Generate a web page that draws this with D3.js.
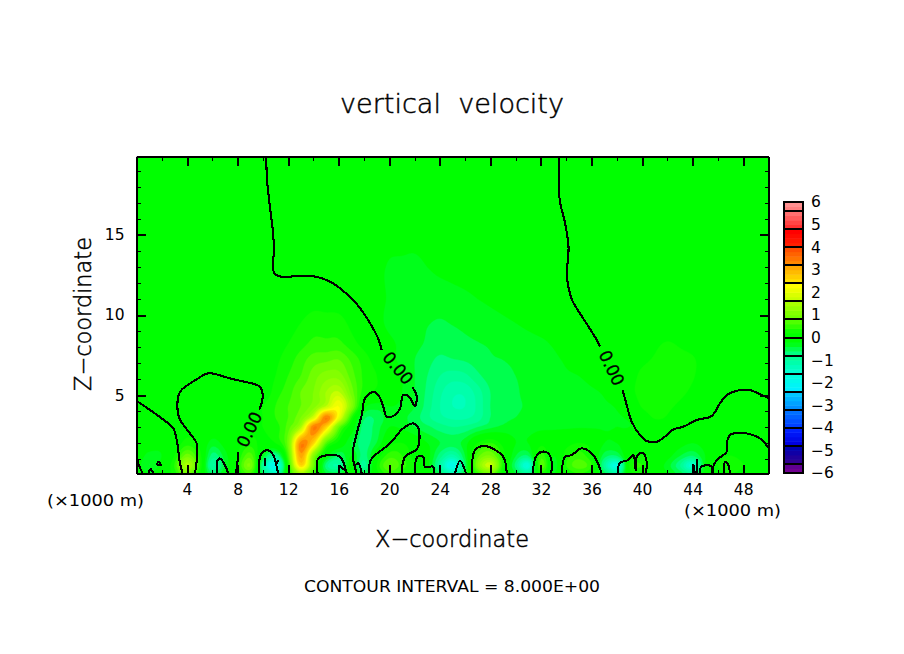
<!DOCTYPE html>
<html>
<head>
<meta charset="utf-8">
<title>vertical velocity</title>
<script src="https://cdn.jsdelivr.net/npm/d3@7"></script>
<style>
  html, body { margin: 0; background: #fff; }
  svg { display: block; }
  text { font-family: "DejaVu Sans", sans-serif; fill: #000; }
</style>
</head>
<body>
<svg id="chart" width="904" height="654"></svg>
<script>
// field, one row per height (x in 1000 m, z in 1000 m)
const xFine = d3.range(0, 51, 1);
const xCoarse = d3.range(0, 51, 2);

const w_z01 = [0,-.2,0,.3,.9,.2,-.6,-.2,.2,.6,-.6,-1.3,.2,1.4,.5,-.4,-.5,.1,-.5,.1,.5,.3,.1,0,-.6,-1.2,-.4,.5,.9,.1,-.4,-.9,.3,-.2,.2,.4,.2,-.5,-1,.1,.2,0,-.2,-.5,-.8,-.1,.1,.2,.1,0,0];
const w_z06 = [-.1,-.4,-.1,.4,1.5,.4,-1,-.4,.3,1,-.9,-2,.3,2.6,.9,-.7,-1,-.1,-.9,.2,.8,.5,.2,-.1,-1,-1.9,-.6,1,1.7,.3,-.7,-1.6,.7,-.3,.4,.7,.4,-.9,-1.7,.2,.4,0,-.3,-.8,-1.5,-.2,.2,.4,.2,0,0];
const w_z12 = [0,-.3,-.2,.2,.9,.3,-.7,-.3,.2,.7,-.3,-.9,.6,3.1,1.1,-.1,-.6,-.2,-.7,0,.5,.4,.1,-.1,-.7,-1.1,-.4,.7,1,.3,-.4,-.6,.5,-.2,.3,.5,.2,-.5,-.6,.1,.2,.1,-.1,-.4,-.6,-.2,.1,.2,.1,0,0];
const w_z20 = [0,0,-.1,0,.3,.1,-.3,-.1,.1,.3,.1,.2,.9,3.3,2.6,.7,.1,-.4,-.7,-.4,.1,.2,0,-.2,-.4,-.5,-.3,.2,.4,.1,-.2,-.2,.1,0,.1,.2,.1,-.2,-.2,0,.1,.1,.1,-.1,-.2,-.1,0,.1,.1,0,0];
const w_z30 = [0,0,0,0,.1,.1,0,0,0,.1,.2,.3,.7,1.5,3.4,2.6,.8,0,-.7,-.5,-.2,-.25,-.4,-.55,-.7,-.8,-.75,-.6,-.45,-.35,-.32,-.3,-.26,-.24,-.23,-.22,-.22,-.21,-.2,-.2,-.1,.05,.1,.05,0,0,0,0,0,0,0];
const w_z36 = [0,0,0,0,0,0,0,0,0,.1,.2,.4,.6,1,1.8,3.4,2.1,.4,-.55,-.55,-.3,-.35,-.5,-.75,-.95,-1.05,-1.05,-.9,-.6,-.45,-.4,-.35,-.3,-.28,-.26,-.25,-.24,-.23,-.22,-.16,.05,.22,.18,.05,0,0,0,0,0,0,0];
const w_z43 = [0,0,0,0,0,0,0,0,0,0,.2,.4,.6,.8,1.1,1.6,2.2,1.1,-.1,-.3,-.2,-.25,-.4,-.7,-1,-1.2,-1.2,-.95,-.6,-.45,-.42,-.38,-.32,-.3,-.28,-.25,-.24,-.22,-.18,-.02,.22,.3,.25,.15,.05,0,0,0,0,0,0];
const w_z52 = [0,0,0,0,0,0,0,0,0,0,0,.3,.5,.8,1,1.4,1.6,.9,.3,.15,0,-.2,-.4,-.65,-.95,-1.15,-1.15,-.9,-.6,-.45,-.42,-.35,-.3,-.3,-.28,-.25,-.22,-.18,-.08,.12,.28,.33,.33,.26,.15,.05,0,0,0,0,0];
const w_z62 = [0,0,0,0,0,0,0,0,0,0,0,.2,.4,.6,.9,1.1,1.1,.7,.35,.2,.02,-.2,-.4,-.6,-.8,-.9,-.85,-.65,-.5,-.42,-.4,-.35,-.3,-.25,-.22,-.2,-.15,-.1,-.02,.1,.25,.32,.35,.33,.22,.1,0,0,0,0,0];
const w_z72 = [0,0,0,0,0,0,.3,.7,.8,.3,-.12,-.4,-.65,-.58,-.42,-.38,-.28,-.18,-.08,0,.15,.3,.22,0,0,0];
const w_z82 = [0,0,0,0,0,0,.2,.45,.45,.12,-.15,-.35,-.5,-.44,-.38,-.32,-.24,-.12,-.05,0,.08,.22,.12,0,0,0];
const w_z95 = [0,0,0,0,0,0,.1,.3,.28,0,-.25,-.36,-.42,-.36,-.28,-.2,-.1,-.05,0,0,0,0,0,0,0,0];
const w_z110 = [0,0,0,0,0,0,0,.1,.08,-.05,-.22,-.3,-.3,-.24,-.16,-.08,-.03,0,0,0,0,0,0,0,0,0];
const w_z130 = [0,0,0,0,0,0,0,0,0,-.05,-.22,-.25,-.15,-.1,-.05,0,0,0,0,0,0,0,0,0,0,0];
const w_z160 = [0,0,0,0,0,0,0,0,0,0,-.05,-.05,0,0,0,0,0,0,0,0,0,0,0,0,0,0];
const w_z200 = [0,0,0,0,0,0,0,0,0,0,0,0,0,0,0,0,0,0,0,0,0,0,0,0,0,0];

const zRows = [0.1, 0.6, 1.2, 2, 3, 3.6, 4.3, 5.2, 6.2, 7.2, 8.2, 9.5, 11, 13, 16, 19.9];

const contourA = [[10.25,19.9],[10.35,18.25],[10.56,16.75],[10.78,15.31],[10.88,14.06],[10.78,13],[10.96,12.56],[11.49,12.39],[12.94,12.44],[14.26,12.38],[15.15,12.14],[15.94,11.77],[17.42,10.69],[18.47,9.5],[19.1,8.56],[19.4,7.81]];
const contourB = [[21.85,5.48],[22.17,4.89],[22.03,4.31],[21.58,4.89],[21.1,5],[20.85,4.17],[20.32,3.69],[19.79,3.64],[19.53,4.27],[19.13,5],[18.73,5.2],[18.08,4.79],[17.82,3.75],[17.42,2.6],[17.1,1.36],[17.2,.73],[17.42,.1]];
const contourC = [[0,4.64],[2,3.54],[2.91,2.92],[3.18,2.19],[3.44,.73],[3.65,.1]];
const contourD = [[4.63,.1],[4.76,1.98],[4.23,2.6],[3.39,3.54],[3.23,4.27],[3.44,5.2],[4.76,5.98],[5.68,6.36],[7.4,6.04],[8.19,5.89],[9.77,5.52],[9.98,5],[9.9,4.48],[9.72,4.1]];
const contourE = [[8.05,1.46],[7.98,.73],[7.87,.1]];
const contourF = [[33.4,19.9],[33.43,17.81],[33.5,17.08],[33.9,15.75],[34.18,14.27],[34.06,12.39],[34.46,10.94],[35,10.2],[35.88,9.13],[36.41,8.44],[36.67,8.02]];
const contourG = [[38.46,5.31],[38.78,4.38],[39.18,3.33],[39.83,2.5],[40.36,2.13],[41.15,2.08],[41.95,2.5],[42.47,2.85],[43.26,3.02],[44.32,3.44],[45.5,3.69],[46.16,4.48],[46.69,5],[47.75,5.31],[48.53,5.31],[49.19,5.1],[50,4.82]];
const contourH = [[50,1.7],[49.33,2.29],[48.53,2.56],[47.48,2.64],[46.95,2.5],[46.69,1.98],[46.69,1.46],[45.9,.94],[45.63,.52],[45.5,.1]];
const surfaceLoops = [
  [[0,1.4],[.14,.73],[.49,.1]],
  [[.93,.1],[1.12,.37],[1.33,.1]],
  [[1.6,.62],[1.73,.83],[1.91,.62],[1.6,.62]],
  [[6.34,.1],[6.42,.94],[6.6,1.04],[7,.62],[7.26,.1]],
  [[9.72,.1],[9.72,.94],[9.9,1.36],[10.35,1.56],[10.82,1.25],[11.09,.52],[11.2,.1]],
  [[10.17,1.04],[10.17,.56]],
  [[11,.62],[11.2,.94]],
  [[14.33,.1],[14.38,1.04],[15.31,1.25],[16.1,1.14],[16.63,.1]],
  [[15.97,.62],[16.5,.3]],
  [[17.2,.52],[17.55,.73],[17.82,.1]],
  [[18.42,.1],[18.53,.94],[20.06,1.98],[21.1,2.92],[21.9,3.23],[22.3,2.92],[22.22,1.67],[21.24,1.14],[20.98,.1]],
  [[22.03,.1],[22.22,1.14],[22.7,1.14],[22.82,.52],[23.48,.52],[23.54,.1]],
  [[25.2,.1],[25.6,.9],[26.07,.1]],
  [[26.52,.1],[26.78,1.56],[27.44,1.83],[27.97,1.73],[29.02,1.14],[29.29,.1]],
  [[31.34,.1],[31.6,1.14],[32.06,1.46],[32.58,1.36],[32.85,.83],[32.8,.1]],
  [[33.64,.1],[33.9,1.14],[34.43,1.25],[35.22,1.67],[36.14,1.25],[36.8,.1]],
  [[38.07,.1],[38.25,.77],[38.9,.94],[39.3,1.25],[39.5,.3],[39.57,1.14],[39.83,1.36],[40.1,1.36],[40.36,.83],[40.3,.1]],
  [[44.18,.1],[44.05,.69]],
  [[44.34,.1],[44.34,.98]],
  [[44.6,.1],[44.65,.48],[45.1,.62],[45.5,.52],[45.6,.1]],
  [[46.48,.1],[46.56,.83],[46.82,.62],[46.95,.1]]
];
const contourLines = [contourA, contourB, contourC, contourD, contourE, contourF, contourG, contourH, ...surfaceLoops];

// [x, z, rotation] of the three 0.00 labels
const labelSpots = [[8.92, 2.85, -64], [20.69, 6.69, 50], [37.6, 6.69, 64]];

// colour bar
const colourStops = [-6,-5.7,-5.5,-4.9,-4.7,-4.1,-3.9,-3.3,-3.1,-2.5,-2.3,-1.7,-1.5,-.9,-.7,-.2,.2,.7,.9,1.5,1.7,2.3,2.5,3.1,3.3,3.9,4.1,4.7,4.9,5.5,5.7,6];
const colourValues = ['#780090','#600090','#300090','#0000b0','#0000e0','#0020ff','#0040ff','#0070ff','#0090ff','#00c8ff','#00f0ff','#00ffe0','#00ffd0','#00ff98','#00ff80','#00ff00','#00ff00','#50ff00','#70ff00','#a8ff00','#c8ff00','#ffff00','#ffe000','#ffa800','#ff8800','#ff5000','#ff2000','#ff0000','#ff3030','#ff7070','#ff8080','#ff9999'];
const barTicks = d3.range(-6, 7);
const barSeparators = [-6,-5.6,-4.8,-4,-3.2,-2.4,-1.6,-.8,0,.8,1.6,2.4,3.2,4,4.8,5.6,6];

const xMajor = d3.range(4, 50, 4);
const xMinor = d3.range(2, 50, 4);
const zMajor = [5, 10, 15];
const zMinor = d3.range(1, 20).filter(d => d % 5 != 0);

const svg = d3.select('#chart');
const plotLeft = 136.5, plotRight = 768.5, plotBottom = 473.5, plotTop = 156.5;

const xScale = d3.scaleLinear().domain([0, 50]).range([plotLeft, plotRight]);
const zScale = d3.scaleLinear().domain([0.1, 19.9]).range([plotBottom, plotTop]);
const colour = d3.scaleLinear().domain(colourStops).range(colourValues);

// the coarse upper rows are stretched on to the fine x grid
const onFine = row => xFine.map(x => {
  const i = Math.min(Math.floor(x / 2), row.length - 2);
  return row[i] + (row[i + 1] - row[i]) * (x - xCoarse[i]) / 2;
});
const rows = [w_z01, w_z06, w_z12, w_z20, w_z30, w_z36, w_z43, w_z52, w_z62,
  onFine(w_z72), onFine(w_z82), onFine(w_z95), onFine(w_z110), onFine(w_z130), onFine(w_z160), onFine(w_z200)];

// smooth resampling of the table for the filled bands only
const catmull = (arr, t) => {
  const i = Math.min(Math.floor(t), arr.length - 2);
  const f = t - i;
  const p0 = arr[Math.max(i - 1, 0)], p1 = arr[i], p2 = arr[i + 1], p3 = arr[Math.min(i + 2, arr.length - 1)];
  return 0.5 * (2 * p1 + (p2 - p0) * f + (2 * p0 - 5 * p1 + 4 * p2 - p3) * f * f + (3 * p1 - p0 - 3 * p2 + p3) * f * f * f);
};
const nx = 316, nz = 159;
const zIndex = d3.scaleLinear().domain(zRows).range(d3.range(zRows.length));
const wide = rows.map(row => d3.range(nx).map(i => catmull(row, (i + 0.5) / nx * 50)));
const grid = [];
for (let j = 0; j < nz; j++) {
  const z = 19.9 - (j + 0.5) / nz * 19.8;
  const t = zIndex(z);
  for (let i = 0; i < nx; i++) {
    grid.push(catmull(wide.map(r => r[i]), t));
  }
}

const gx = d3.scaleLinear().domain([0, nx]).range([plotLeft, plotRight]);
const gy = d3.scaleLinear().domain([0, nz]).range([plotTop, plotBottom]);
const path = d3.geoPath(d3.geoTransform({
  point(px, py) { this.stream.point(gx(px), gy(py)); }
}));

const levels = d3.range(-30, 31).map(k => k / 5).filter(d => d != 0);
const bandColour = t => colour(t + 0.1);

svg.append('rect')
  .attr('x', plotLeft).attr('y', plotTop)
  .attr('width', plotRight - plotLeft).attr('height', plotBottom - plotTop)
  .attr('fill', bandColour(-6));

svg.append('g').selectAll('path')
  .data(d3.contours().size([nx, nz]).thresholds(levels)(grid))
  .join('path')
  .attr('d', path)
  .attr('fill', d => bandColour(d.value))
  .attr('stroke', d => bandColour(d.value))
  .attr('stroke-width', 0.4);

// zero contour
const line = d3.line().curve(d3.curveCatmullRom.alpha(0.5)).x(d => xScale(d[0])).y(d => zScale(d[1]));
svg.append('g').selectAll('path')
  .data(contourLines)
  .join('path')
  .attr('d', line)
  .attr('fill', 'none')
  .attr('stroke', '#000')
  .attr('stroke-width', 2.1)
  .attr('stroke-linejoin', 'round')
  .style('shape-rendering', 'crispEdges');

svg.append('g').selectAll('text')
  .data(labelSpots)
  .join('text')
  .attr('transform', d => `translate(${xScale(d[0])},${zScale(d[1])}) rotate(${d[2]})`)
  .attr('text-anchor', 'middle')
  .attr('dy', '0.36em')
  .attr('font-size', 17)
  .attr('textLength', 37)
  .attr('stroke', '#000')
  .attr('stroke-width', 0.3)
  .text('0.00');

// frame and ticks on all four sides
const styleAxis = (g, w) => {
  g.select('.domain').attr('stroke-width', 2.4).attr('stroke', '#000');
  g.selectAll('.tick line').attr('stroke-width', w).attr('stroke', '#000');
  g.style('shape-rendering', 'crispEdges');
};
const tickFont = g => g.selectAll('text').attr('font-size', 15.5).style('font-family', '"DejaVu Sans", sans-serif').style('fill', '#000');

svg.append('g').attr('transform', `translate(0,${plotBottom})`)
  .call(d3.axisBottom(xScale).tickValues(xMinor).tickSizeInner(-4).tickSizeOuter(0).tickFormat(''))
  .call(styleAxis, 1);
svg.append('g').attr('transform', `translate(0,${plotBottom})`)
  .call(d3.axisBottom(xScale).tickValues(xMajor).tickSizeInner(-9).tickSizeOuter(0).tickPadding(10))
  .call(styleAxis, 2).call(tickFont);
svg.append('g').attr('transform', `translate(0,${plotTop})`)
  .call(d3.axisTop(xScale).tickValues(xMinor).tickSizeInner(-4).tickSizeOuter(0).tickFormat(''))
  .call(styleAxis, 1);
svg.append('g').attr('transform', `translate(0,${plotTop})`)
  .call(d3.axisTop(xScale).tickValues(xMajor).tickSizeInner(-9).tickSizeOuter(0).tickFormat(''))
  .call(styleAxis, 2);
svg.append('g').attr('transform', `translate(${plotLeft},0)`)
  .call(d3.axisLeft(zScale).tickValues(zMinor).tickSizeInner(-4).tickSizeOuter(0).tickFormat(''))
  .call(styleAxis, 1);
svg.append('g').attr('transform', `translate(${plotLeft},0)`)
  .call(d3.axisLeft(zScale).tickValues(zMajor).tickSizeInner(-9).tickSizeOuter(0).tickPadding(12))
  .call(styleAxis, 2).call(tickFont);
svg.append('g').attr('transform', `translate(${plotRight},0)`)
  .call(d3.axisRight(zScale).tickValues(zMinor).tickSizeInner(-4).tickSizeOuter(0).tickFormat(''))
  .call(styleAxis, 1);
svg.append('g').attr('transform', `translate(${plotRight},0)`)
  .call(d3.axisRight(zScale).tickValues(zMajor).tickSizeInner(-9).tickSizeOuter(0).tickFormat(''))
  .call(styleAxis, 2);

// colour bar
const barLeft = 784, barRight = 803;
const barY = d3.scaleLinear().domain([-6, 6]).range([473, 202]);
svg.append('g').selectAll('rect')
  .data(d3.range(-30, 30).map(k => k / 5))
  .join('rect')
  .attr('x', barLeft).attr('width', barRight - barLeft)
  .attr('y', d => barY(d + 0.2)).attr('height', d => barY(d) - barY(d + 0.2) + 0.5)
  .attr('fill', d => bandColour(d));
svg.append('g').selectAll('line')
  .data(barSeparators)
  .join('line')
  .attr('x1', barLeft).attr('x2', barRight)
  .attr('y1', d => barY(d)).attr('y2', d => barY(d))
  .attr('stroke', '#000').attr('stroke-width', 2)
  .style('shape-rendering', 'crispEdges');
svg.append('rect')
  .attr('x', barLeft).attr('y', barY(6))
  .attr('width', barRight - barLeft).attr('height', barY(-6) - barY(6))
  .attr('fill', 'none').attr('stroke', '#000').attr('stroke-width', 2)
  .style('shape-rendering', 'crispEdges');
const barAxis = svg.append('g').attr('transform', `translate(${barRight},0)`)
  .call(d3.axisRight(barY).tickValues(barTicks).tickSize(0).tickPadding(8));
barAxis.select('.domain').remove();
barAxis.call(tickFont);

// titles
const addText = (str, x, y, size, len, rotate) => svg.append('text')
  .attr('transform', `translate(${x},${y})${rotate ? ` rotate(${rotate})` : ''}`)
  .attr('text-anchor', 'middle')
  .attr('font-size', size)
  .attr('textLength', len)
  .attr('lengthAdjust', 'spacingAndGlyphs')
  .text(str);

const thin = t => t.attr('font-weight', 200).attr('stroke', '#000').attr('stroke-width', 0.5);
addText('vertical  velocity', 452, 113, 27, 224).style('white-space', 'pre').call(thin);
addText('X\u2212coordinate', 452, 547, 23, 154).call(thin);
addText('Z\u2212coordinate', 91, 314, 23, 154, -90).call(thin);
addText('(\u00d71000 m)', 95.5, 506, 16, 97);
addText('(\u00d71000 m)', 732.5, 516, 16, 97);
addText('CONTOUR INTERVAL = 8.000E+00', 452, 592, 16, 296);
</script>
</body>
</html>
